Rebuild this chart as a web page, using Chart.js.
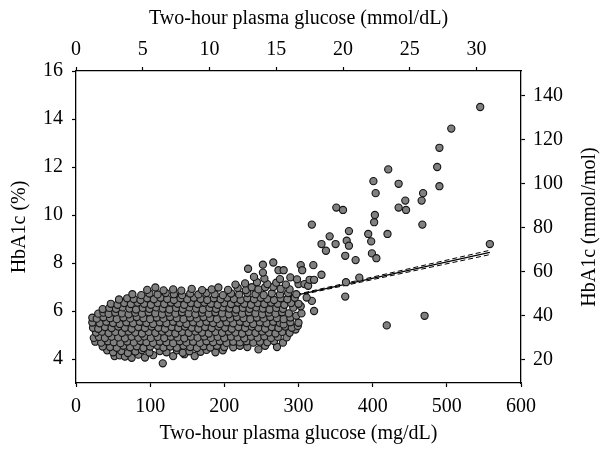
<!DOCTYPE html>
<html>
<head>
<meta charset="utf-8">
<script src="https://cdn.jsdelivr.net/npm/chart.js@4.4.1/dist/chart.umd.min.js"></script>
<style>
  html, body { margin: 0; padding: 0; background: #fff; }
  #wrap { width: 601px; height: 449px; }
</style>
</head>
<body>
<div id="wrap"><canvas id="chart-scatter" width="601" height="449"></canvas></div>
<script>
// Two-hour plasma glucose (mg/dL) vs HbA1c (%)
const mgTicks = [0, 100, 200, 300, 400, 500, 600];
const mmolTicks = [0, 5, 10, 15, 20, 25, 30];
const pctTicks = [4, 6, 8, 10, 12, 14, 16];
const ifccTicks = [20, 40, 60, 80, 100, 120, 140];

// dense cluster of participants
const clusterPoints = [
  [52,4.12],[59,4.15],[66,4.1],[75,4.05],[84,4.18],[93,4.06],[104,4.16],[117,3.82],[131,4.12],[146,4.2],[160,4.12],
  [42,4.36],[50,4.28],[61,4.33],[70,4.25],[80,4.31],[89,4.37],[99,4.27],[113,4.33],[122,4.28],[136,4.36],[144,4.26],[153,4.32],[168,4.3],[176,4.38],[188,4.28],[198,4.36],
  [36,4.52],[46,4.5],[55,4.47],[64,4.55],[73,4.49],[82,4.53],[91,4.46],[100,4.52],[110,4.55],[118,4.48],[127,4.52],[136,4.47],[145,4.55],[154,4.5],[163,4.46],[172,4.53],[181,4.48],[190,4.55],[200,4.5],[212,4.49],[221,4.55],[231,4.5],[246,4.4],[255,4.55],[271,4.5],
  [26,4.72],[34,4.68],[43,4.74],[51,4.7],[60,4.66],[69,4.73],[78,4.69],[87,4.75],[95,4.7],[104,4.67],[113,4.73],[122,4.7],[131,4.66],[140,4.74],[149,4.69],[158,4.72],[167,4.67],[176,4.74],[185,4.7],[194,4.74],[203,4.67],[212,4.72],[221,4.69],[230,4.74],[239,4.68],[248,4.72],[258,4.7],[267,4.75],[279,4.68],
  [24,4.88],[31,4.92],[39,4.87],[48,4.93],[57,4.9],[66,4.86],[75,4.93],[84,4.89],[92,4.94],[101,4.88],[110,4.92],[119,4.87],[128,4.93],[137,4.9],[146,4.86],[155,4.93],[164,4.89],[173,4.94],[182,4.88],[191,4.92],[200,4.87],[209,4.93],[218,4.9],[227,4.86],[236,4.93],[245,4.89],[254,4.94],[263,4.88],[272,4.92],[284,4.9],
  [27,5.1],[35,5.14],[44,5.08],[53,5.13],[62,5.09],[71,5.15],[80,5.1],[89,5.06],[98,5.13],[107,5.09],[116,5.15],[125,5.1],[134,5.06],[143,5.13],[152,5.09],[161,5.15],[170,5.1],[179,5.06],[188,5.13],[197,5.09],[206,5.15],[215,5.1],[224,5.06],[233,5.13],[242,5.09],[251,5.15],[260,5.1],[269,5.06],[278,5.13],[288,5.09],[296,5.23],
  [23,5.3],[30,5.26],[39,5.33],[48,5.29],[57,5.35],[66,5.3],[75,5.26],[84,5.33],[93,5.29],[102,5.35],[111,5.3],[120,5.26],[129,5.33],[138,5.29],[147,5.35],[156,5.3],[165,5.26],[174,5.33],[183,5.29],[192,5.35],[201,5.3],[210,5.26],[219,5.33],[228,5.29],[237,5.35],[246,5.3],[255,5.26],[264,5.33],[273,5.29],[282,5.35],[291,5.3],[299,5.38],
  [22,5.52],[32,5.49],[41,5.55],[50,5.5],[59,5.46],[68,5.53],[77,5.49],[86,5.55],[95,5.5],[104,5.46],[113,5.53],[122,5.49],[131,5.55],[140,5.5],[149,5.46],[158,5.53],[167,5.49],[176,5.55],[185,5.5],[194,5.46],[203,5.53],[212,5.49],[221,5.55],[230,5.5],[239,5.46],[248,5.53],[257,5.49],[266,5.55],[275,5.5],[280,5.44],[289,5.53],[300,5.51],
  [22,5.72],[28,5.68],[37,5.74],[46,5.7],[55,5.66],[64,5.73],[73,5.69],[82,5.75],[91,5.7],[100,5.66],[109,5.73],[118,5.69],[127,5.75],[136,5.7],[145,5.66],[154,5.73],[163,5.69],[172,5.75],[181,5.7],[190,5.66],[199,5.73],[208,5.69],[217,5.75],[226,5.7],[235,5.66],[244,5.73],[253,5.69],[262,5.75],[271,5.7],[280,5.66],[289,5.73],[297,5.8],
  [30,5.89],[37,5.93],[44,5.88],[53,5.94],[62,5.9],[71,5.86],[80,5.93],[89,5.89],[98,5.95],[107,5.9],[116,5.86],[125,5.93],[134,5.89],[143,5.95],[152,5.9],[161,5.86],[170,5.93],[179,5.89],[188,5.95],[197,5.9],[206,5.86],[215,5.93],[224,5.89],[233,5.95],[242,5.9],[251,5.86],[260,5.93],[269,5.89],[278,5.95],[287,5.9],[304,5.9],
  [36,6.08],[45,6.13],[54,6.09],[63,6.15],[72,6.1],[81,6.06],[90,6.13],[99,6.09],[108,6.15],[117,6.1],[126,6.06],[135,6.13],[144,6.09],[153,6.15],[162,6.1],[171,6.06],[180,6.13],[189,6.09],[198,6.15],[207,6.1],[216,6.06],[225,6.13],[234,6.09],[243,6.15],[252,6.1],[261,6.06],[270,6.13],[279,6.09],[293,6.14],[303,6.2],
  [47,6.3],[56,6.26],[65,6.33],[74,6.29],[83,6.35],[92,6.3],[101,6.26],[110,6.33],[119,6.29],[128,6.35],[137,6.3],[146,6.26],[155,6.33],[164,6.29],[173,6.35],[182,6.3],[191,6.26],[200,6.33],[209,6.29],[218,6.35],[227,6.3],[236,6.26],[245,6.33],[254,6.29],[263,6.35],[272,6.3],[281,6.26],[290,6.33],[300,6.3],[318,6.42],
  [58,6.48],[69,6.53],[78,6.5],[87,6.46],[96,6.53],[105,6.49],[114,6.55],[123,6.5],[132,6.46],[141,6.53],[150,6.49],[159,6.55],[168,6.5],[177,6.46],[186,6.53],[195,6.49],[204,6.55],[213,6.5],[222,6.46],[231,6.53],[240,6.49],[249,6.55],[258,6.5],[267,6.46],[276,6.53],[285,6.49],[295,6.55],[311,6.56],
  [76,6.7],[88,6.66],[99,6.73],[110,6.69],[121,6.75],[132,6.7],[143,6.66],[154,6.73],[165,6.69],[176,6.75],[187,6.7],[198,6.66],[209,6.73],[220,6.69],[231,6.75],[242,6.7],[253,6.66],[264,6.73],[275,6.69],[286,6.75],[297,6.7],
  [96,6.88],[107,6.98],[118,6.86],[131,6.9],[142,6.85],[156,6.92],[170,6.87],[183,6.9],[192,6.98],[205,6.88],[218,6.96],[229,6.87],[237,6.99],[246,6.9],[255,6.99],[266,7.0],[276,6.92],[288,6.9],
  [215,7.1],[228,7.15],[244,7.2],[258,7.12],[270,7.18],[283,7.1],[300,7.12],[308,7.12],[313,7.05],[315,7.3],[321,7.3],
  [240,7.42],[254,7.35],[275,7.33],[289,7.4],[298,7.32],
  [232,7.76],[252,7.93],[252,7.6],[266,8.02],[273,7.7],[280,7.7]
];

// scattered high-glucose participants
const outlierPoints = [
  [545,14.5],[506,13.6],[490,12.8],[487,12.0],[490,11.2],[421,11.9],[401,11.41],[435,11.3],
  [404,10.91],[468,10.91],[466,10.6],[444,10.6],[351,10.31],[360,10.21],[435,10.31],[445,10.21],
  [403,10.0],[402,9.7],[318,9.6],[467,9.6],[368,9.33],[342,9.11],[331,8.79],[337,8.51],[350,8.79],
  [365,8.93],[368,8.72],[363,8.3],[377,8.12],[394,9.21],[398,8.9],[399,8.4],[405,8.2],[420,9.21],
  [558,8.79],[303,7.91],[320,7.91],[305,7.7],[331,7.51],[382,7.39],[364,7.2],[363,6.6],[321,6.0],
  [470,5.8],[419,5.4]
];

// regression line and its 95% band
const fitLine = [[23,4.79],[558,8.44]];
const fitUpper = [[23,4.84],[130,5.54],[300,6.71],[558,8.53]];
const fitLower = [[23,4.74],[130,5.50],[300,6.65],[558,8.35]];

const toXY = (pairs) => pairs.map(([x, y]) => ({ x, y }));
const MG_PER_MMOL = 18;
const pctToIfcc = (p) => (p - 2.15) * 10.929;

const serif = "'Liberation Serif', 'DejaVu Serif', serif";
const tickFont = { family: serif, size: 20 };
const titleFont = { family: serif, size: 20 };
const setTicks = (values) => (axis) => { axis.ticks = values.map(v => ({ value: v })); };

const axisStyle = {
  grid: { drawOnChartArea: false, drawTicks: true, tickLength: 4, color: '#000', tickWidth: 1.2 },
  border: { display: true, color: '#000', width: 1.3 },
};

const rightTitle = {
  id: 'rightTitle',
  afterDraw(chart) {
    const { ctx, chartArea } = chart;
    ctx.save();
    ctx.translate(590, (chartArea.top + chartArea.bottom) / 2);
    ctx.rotate(-Math.PI / 2);
    ctx.font = `20px ${serif}`;
    ctx.fillStyle = '#000';
    ctx.textAlign = 'center';
    ctx.textBaseline = 'middle';
    ctx.fillText('HbA1c (mmol/mol)', 0, 0);
    ctx.restore();
  }
};

// lines sit underneath the dots (higher order = drawn first)
const lineSet = (label, pairs, dash, width) => ({
  type: 'line',
  label,
  data: toXY(pairs),
  showLine: true,
  borderColor: '#000',
  borderWidth: width,
  borderDash: dash,
  pointRadius: 0,
  fill: false,
  tension: 0,
  order: 2
});

new Chart(document.getElementById('chart-scatter').getContext('2d'), {
  type: 'scatter',
  data: {
    datasets: [
      lineSet('Upper 95% CI', fitUpper, [5, 3], 1),
      lineSet('Lower 95% CI', fitLower, [5, 3], 1),
      lineSet('Regression', fitLine, [], 1.2),
      {
        label: 'Participants',
        data: toXY(clusterPoints.concat(outlierPoints)),
        backgroundColor: '#808080',
        borderColor: '#141414',
        borderWidth: 1.1,
        pointRadius: 3.6,
        order: 1
      }
    ]
  },
  options: {
    responsive: false,
    animation: false,
    devicePixelRatio: 1,
    layout: { padding: 0 },
    plugins: { legend: { display: false }, tooltip: { enabled: false } },
    scales: {
      x: {
        type: 'linear', position: 'bottom', min: 0, max: 600,
        afterBuildTicks: setTicks(mgTicks),
        afterFit: (a) => { a.height = 66; },
        ...axisStyle,
        ticks: { color: '#000', font: tickFont, padding: 8 },
        title: { display: true, text: 'Two-hour plasma glucose (mg/dL)', color: '#000', font: titleFont, padding: { top: 0, bottom: 3 } }
      },
      x2: {
        type: 'linear', position: 'top', min: 0, max: 600 / MG_PER_MMOL,
        afterBuildTicks: setTicks(mmolTicks),
        afterFit: (a) => { a.height = 71; },
        ...axisStyle,
        ticks: { color: '#000', font: tickFont, padding: 5 },
        title: { display: true, text: 'Two-hour plasma glucose (mmol/dL)', color: '#000', font: titleFont, padding: { top: 7, bottom: 0 } }
      },
      y: {
        type: 'linear', position: 'left', min: 3, max: 16,
        afterBuildTicks: setTicks(pctTicks),
        afterFit: (a) => { a.width = 76; },
        ...axisStyle,
        ticks: { color: '#000', font: tickFont, padding: 9 },
        title: { display: true, text: 'HbA1c (%)', color: '#000', font: titleFont, padding: { top: 8, bottom: 0 } }
      },
      y2: {
        type: 'linear', position: 'right', min: pctToIfcc(3), max: pctToIfcc(16),
        afterBuildTicks: setTicks(ifccTicks),
        afterFit: (a) => { a.width = 80; },
        ...axisStyle,
        ticks: { color: '#000', font: tickFont, padding: 8 }
      }
    }
  },
  plugins: [rightTitle]
});
</script>
</body>
</html>
